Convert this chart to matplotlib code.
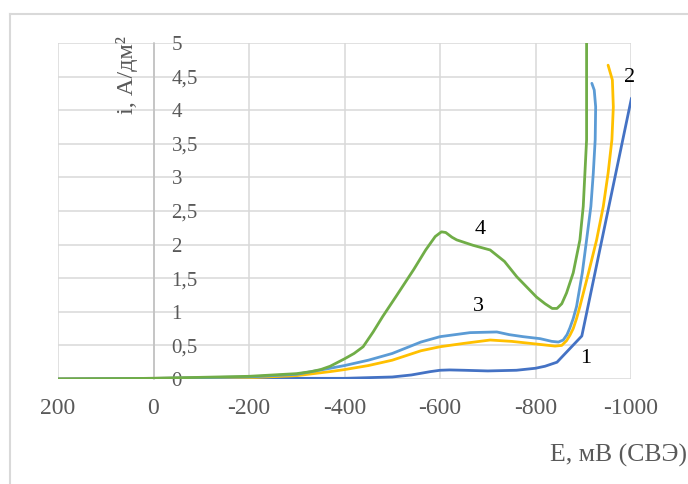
import numpy as np
import matplotlib
matplotlib.use("Agg")
import matplotlib.pyplot as plt
from matplotlib.lines import Line2D

plt.rcParams['font.family'] = ['Liberation Serif', 'DejaVu Serif']
plt.rcParams['axes.unicode_minus'] = False

# polarization curves, E in mV (SHE), i in A/dm2
e1 = [200, 0, -200, -400, -500, -540, -580, -600, -620, -650, -700, -760, -800, -820, -845, -865,
      -897, -1001]
i1 = [0, 0.005, 0.01, 0.01, 0.03, 0.06, 0.11, 0.13, 0.135, 0.13, 0.12, 0.13, 0.16, 0.19, 0.25, 0.4,
      0.64, 4.18]

e2 = [200, 0, -200, -300, -370, -400, -450, -500, -560, -600, -650, -705, -750, -789, -841, -855,
      -865, -872, -879, -886, -893, -911, -928, -942, -952, -960, -963, -961, -952]
i2 = [0, 0.01, 0.02, 0.05, 0.11, 0.14, 0.2, 0.28, 0.42, 0.48, 0.53, 0.58, 0.56, 0.53, 0.49, 0.5,
      0.57, 0.65, 0.75, 0.9, 1.08, 1.58, 2.07, 2.57, 3.06, 3.56, 4.05, 4.45, 4.67]

e3 = [200, 0, -200, -300, -370, -400, -450, -500, -560, -600, -663, -719, -745, -774, -810, -834,
      -848, -858, -866, -872, -879, -886, -898, -907, -916, -921, -925, -926, -923, -918]
i3 = [0, 0.01, 0.03, 0.07, 0.16, 0.2, 0.28, 0.38, 0.55, 0.63, 0.69, 0.7, 0.66, 0.63, 0.6, 0.56,
      0.55, 0.58, 0.66, 0.76, 0.9, 1.08, 1.58, 2.07, 2.57, 3.06, 3.56, 4.05, 4.3, 4.4]

e4 = [200, 0, -200, -300, -330, -350, -370, -400, -420, -439, -460, -480, -509, -545, -570, -590,
      -603, -612, -625, -635, -669, -705, -735, -761, -802, -820, -835, -845, -855, -865, -879,
      -893, -900, -907, -907]
i4 = [0, 0.01, 0.04, 0.08, 0.11, 0.14, 0.19, 0.3, 0.38, 0.48, 0.7, 0.93, 1.24, 1.63, 1.92, 2.12,
      2.19, 2.18, 2.11, 2.07, 1.99, 1.92, 1.75, 1.52, 1.22, 1.12, 1.05, 1.05, 1.12, 1.28, 1.58,
      2.07, 2.57, 3.56, 5.2]

curve_labels = ["1", "2", "3", "4"]
label_e = [-906, -996, -680, -684]
label_i = [0.31, 4.49, 1.08, 2.22]

colors = ["#4472C4", "#FFC000", "#5B9BD5", "#70AD47"]

fig = plt.figure(figsize=(6.88, 4.84), dpi=100)
ax = fig.add_axes([58 / 688, 1 - 379 / 484, (631 - 58) / 688, (379 - 43) / 484])

for e, i, c in zip([e1, e2, e3, e4], [i1, i2, i3, i4], colors):
    ax.plot(e, i, color=c, lw=2.0, solid_joinstyle="round", solid_capstyle="round", zorder=3)

for t, x, y in zip(curve_labels, label_e, label_i):
    ax.text(x, y, t, fontsize=16, color="black", ha="center", va="center", zorder=4)

ax.set_xlim(200, -1000)
ax.set_ylim(0, 5)
ax.set_xticks(np.arange(200, -1001, -200))
ax.set_yticks(np.arange(0, 5.01, 0.5))
ax.set_yticklabels(["0", "0,5", "1", "1,5", "2", "2,5", "3", "3,5", "4", "4,5", "5"])

ax.grid(True, color="#d9d9d9", lw=1.1, zorder=0)
ax.set_axisbelow(True)

for s in ["left", "top", "bottom"]:
    ax.spines[s].set_visible(False)
ax.spines["right"].set_position(("data", 0))
ax.spines["right"].set_color("#bfbfbf")
ax.spines["right"].set_linewidth(1.1)
ax.yaxis.tick_right()

ax.tick_params(axis="y", length=0, pad=13, labelsize=15, labelcolor="#595959")
ax.tick_params(axis="x", length=0, pad=14, labelsize=17, labelcolor="#595959")
for lab in ax.get_yticklabels():
    lab.set_horizontalalignment("left")

fig.text(127 / 688, 1 - 36 / 484, "i, А/дм²", rotation=90, ha="center", va="top",
         fontsize=17.5, color="#595959")
fig.text(687 / 688, 1 - 455 / 484, "Е, мВ (СВЭ)", ha="right", va="center",
         fontsize=18.5, color="#595959")

# chart area frame
fig.add_artist(Line2D([10 / 688, 1], [1 - 14 / 484, 1 - 14 / 484], transform=fig.transFigure,
                      color="#d9d9d9", lw=1.5))
fig.add_artist(Line2D([10 / 688, 10 / 688], [0, 1 - 14 / 484], transform=fig.transFigure,
                      color="#d9d9d9", lw=1.5))

fig.savefig("out.png", dpi=100)
